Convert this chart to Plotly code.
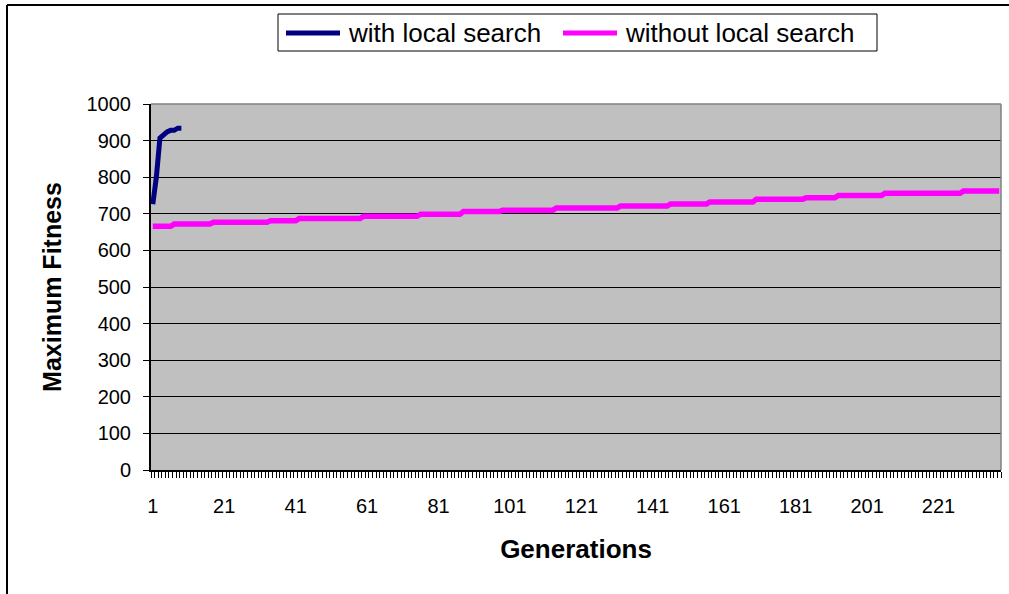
import numpy as np
import plotly.graph_objects as go

# Maximum fitness per generation, run with local search (generations 1..9)
with_ls_gen = [1, 2, 3, 4, 5, 6, 7, 8, 9]
with_ls_fitness = [726, 800, 907, 916, 924, 928, 928, 934, 934]

# Run without local search: fitness holds at a level until the next improvement.
n_generations = 238
without_ls_change_gen = [7, 18, 34, 42, 60, 76, 88, 99, 114, 132, 146, 157, 170, 184, 193, 206, 228]
without_ls_levels = [666, 672, 677, 681, 687, 693, 699, 706, 710, 716, 721, 727, 732, 740, 744, 750, 756, 762]

x_tick_vals = [1, 21, 41, 61, 81, 101, 121, 141, 161, 181, 201, 221]
y_tick_vals = [0, 100, 200, 300, 400, 500, 600, 700, 800, 900, 1000]

series_names = ["with local search", "without local search"]
series_colors = ["#000080", "#FF00FF"]

# expand the improvement points into one value per generation
starts = [1] + without_ls_change_gen
ends = without_ls_change_gen + [n_generations + 1]
without_ls_fitness = np.repeat(without_ls_levels, np.array(ends) - np.array(starts))
without_ls_gen = np.arange(1, n_generations + 1)

FONT = "Liberation Sans, Arial, sans-serif"

# plot area in pixels, used to place the legend box drawn above it
L, R, T, B = 151, 1001, 104, 470
W, H = 1009, 594


def px(x):
    return (x - L) / (R - L)


def py(y):
    return (B - y) / (B - T)


fig = go.Figure()
fig.add_trace(go.Scatter(
    x=with_ls_gen, y=with_ls_fitness, mode="lines", name=series_names[0],
    line=dict(color=series_colors[0], width=5), showlegend=False,
))
fig.add_trace(go.Scatter(
    x=without_ls_gen, y=without_ls_fitness, mode="lines", name=series_names[1],
    line=dict(color=series_colors[1], width=5.5), showlegend=False,
))

# legend: framed box with a line sample and label per series
legend_y = 33
legend_items = [(286, 340, 346), (563, 617, 623)]
shapes = [
    dict(type="rect", xref="paper", yref="paper",
         x0=px(278), x1=px(877), y0=py(51), y1=py(14),
         line=dict(color="black", width=1), fillcolor="white", layer="above"),
]
annotations = []
for (lx0, lx1, tx), name, color in zip(legend_items, series_names, series_colors):
    shapes.append(dict(type="line", xref="paper", yref="paper",
                       x0=px(lx0), x1=px(lx1), y0=py(legend_y), y1=py(legend_y),
                       line=dict(color=color, width=5)))
    annotations.append(dict(xref="paper", yref="paper", x=px(tx), y=py(legend_y),
                            xanchor="left", yanchor="middle", showarrow=False,
                            text=name, font=dict(size=26, family=FONT, color="black")))

shapes += [
    # plot area frame (top and right edges)
    dict(type="line", xref="paper", yref="paper", x0=0, x1=1, y0=1, y1=1,
         line=dict(color="#808080", width=1.5)),
    dict(type="line", xref="paper", yref="paper", x0=1, x1=1, y0=0, y1=1,
         line=dict(color="#808080", width=1.5)),
    # chart frame
    dict(type="line", xref="paper", yref="paper", x0=px(7), x1=1.2, y0=py(5), y1=py(5),
         line=dict(color="black", width=2)),
    dict(type="line", xref="paper", yref="paper", x0=px(7), x1=px(7), y0=-0.5, y1=py(5),
         line=dict(color="black", width=2)),
]

fig.update_layout(
    width=W, height=H,
    margin=dict(l=L, r=W - R, t=T, b=H - B),
    paper_bgcolor="white",
    plot_bgcolor="#C0C0C0",
    font=dict(family=FONT, color="black"),
    showlegend=False,
    xaxis=dict(
        range=[0.5, n_generations + 0.5],
        tickmode="array", tickvals=x_tick_vals, ticktext=[str(v) for v in x_tick_vals],
        ticks="", ticklabelstandoff=17,
        tickfont=dict(size=20, family=FONT),
        showline=True, linecolor="black", linewidth=1.5,
        showgrid=False, zeroline=False,
        minor=dict(ticks="outside", ticklen=6, tickcolor="black", tickwidth=1,
                   tickmode="linear", tick0=0.5, dtick=1, showgrid=False),
        title=dict(text="<b>Generations</b>", font=dict(size=26, family=FONT), standoff=24),
    ),
    yaxis=dict(
        range=[0, 1000],
        tickmode="array", tickvals=y_tick_vals,
        ticks="outside", ticklen=6, tickcolor="black", tickwidth=1,
        ticklabelstandoff=8,
        tickfont=dict(size=20, family=FONT),
        showline=True, linecolor="black", linewidth=2,
        showgrid=True, gridcolor="black", gridwidth=1,
        zeroline=False,
        title=dict(text="<b>Maximum Fitness</b>", font=dict(size=25, family=FONT), standoff=18),
    ),
    shapes=shapes,
    annotations=annotations,
)

fig.write_html("out.html")
